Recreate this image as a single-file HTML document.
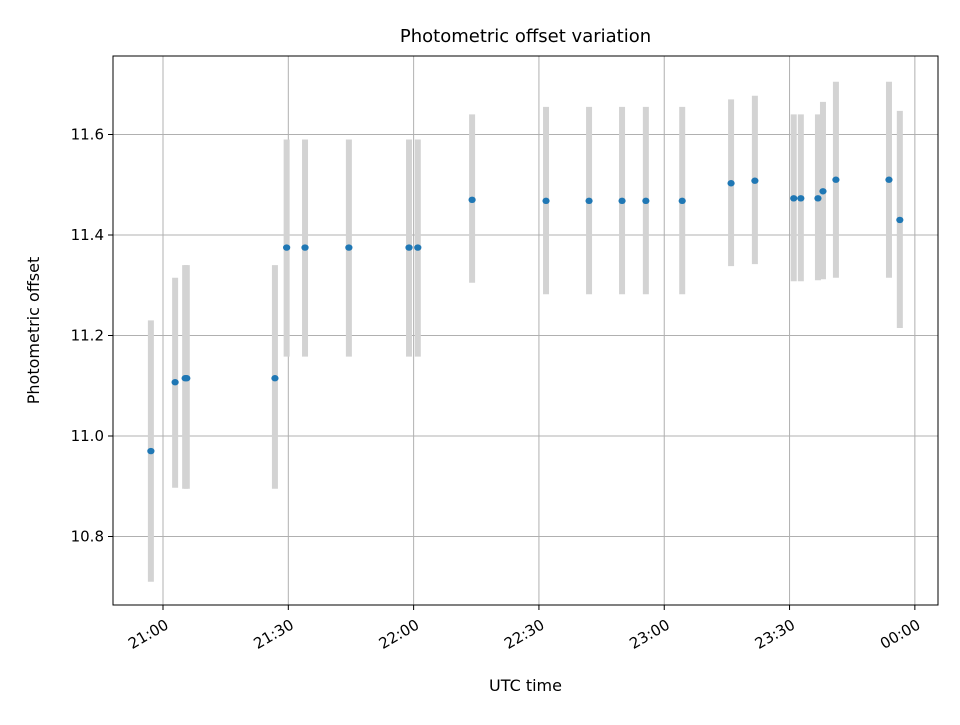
<!DOCTYPE html>
<html><head><meta charset="utf-8"><style>
body{margin:0;background:#fff;font-family:"Liberation Sans","DejaVu Sans",sans-serif}
svg text{font-family:"DejaVu Sans","Liberation Sans",sans-serif;fill:#000}
</style></head><body>
<svg id="chart" width="960" height="720" xmlns="http://www.w3.org/2000/svg">
<rect width="960" height="720" fill="#fff"/>
<g id="grid"></g><g id="bars"></g><g id="pts"></g><g id="axes"></g>
</svg>
<script>
const timesMin=[-2.9,2.9,5.3,5.7,26.8,29.6,34,44.5,58.9,61,74,91.7,102,109.9,115.6,124.3,136,141.7,151,152.7,156.8,158,161.1,173.8,176.4];
const offsets=[10.97,11.107,11.115,11.115,11.115,11.375,11.375,11.375,11.375,11.375,11.47,11.468,11.468,11.468,11.468,11.468,11.503,11.508,11.473,11.473,11.473,11.487,11.51,11.51,11.43];
const lowErr=[10.71,10.897,10.895,10.895,10.895,11.158,11.158,11.158,11.158,11.158,11.305,11.282,11.282,11.282,11.282,11.282,11.338,11.342,11.308,11.308,11.31,11.312,11.315,11.315,11.215];
const highErr=[11.23,11.315,11.34,11.34,11.34,11.59,11.59,11.59,11.59,11.59,11.64,11.655,11.655,11.655,11.655,11.655,11.67,11.677,11.64,11.64,11.64,11.665,11.705,11.705,11.647];
const xTicks=[0,30,60,90,120,150,180];
const xTickLabels=["21:00","21:30","22:00","22:30","23:00","23:30","00:00"];
const yTicks=[10.8,11.0,11.2,11.4,11.6];
const yTickLabels=["10.8","11.0","11.2","11.4","11.6"];
const L=113,R=938,T=56,B=605;
const xs=m=>163+m*4.177;
const ys=v=>436-(v-11.0)*502.5;
const NS="http://www.w3.org/2000/svg";
function mk(p,tag,at){const e=document.createElementNS(NS,tag);for(const k in at)e.setAttribute(k,at[k]);p.appendChild(e);return e;}
const grid=document.getElementById('grid'),bars=document.getElementById('bars'),pts=document.getElementById('pts'),axes=document.getElementById('axes');
xTicks.forEach((t,i)=>{const x=xs(t);
 const g=mk(grid,'line',{x1:x,x2:x,y1:T,y2:B,stroke:'#b0b0b0','stroke-width':1});
 
 mk(axes,'line',{x1:x,x2:x,y1:B,y2:B+5,stroke:'#000'});
 const ax=x+1,ay=B+13;
 const tx=mk(axes,'text',{x:ax,y:ay,'font-size':15,'text-anchor':'end','dominant-baseline':'hanging',transform:`rotate(-30 ${ax} ${ay})`});
 tx.textContent=xTickLabels[i];
 });
yTicks.forEach((t,i)=>{const y=ys(t);
 const g=mk(grid,'line',{x1:L,x2:R,y1:y,y2:y,stroke:'#b0b0b0','stroke-width':1});
 
 mk(axes,'line',{x1:L-5,x2:L,y1:y,y2:y,stroke:'#000'});
 const tx=mk(axes,'text',{x:L-9,y:y+5,'font-size':15,'text-anchor':'end'});
 tx.textContent=yTickLabels[i];
 });
timesMin.forEach((m,i)=>{const x=xs(m);
 const b=mk(bars,'line',{x1:x,x2:x,y1:ys(lowErr[i]),y2:ys(highErr[i]),stroke:'#d3d3d3','stroke-width':6});
 
 const c=mk(pts,'ellipse',{cx:x,cy:ys(offsets[i]),rx:3.6,ry:3.2,fill:'#1f77b4'});
 });
const fr=mk(axes,'rect',{x:L,y:T,width:R-L,height:B-T,fill:'none',stroke:'#000','stroke-width':1});

const ti=mk(axes,'text',{x:(L+R)/2,y:42,'font-size':18,'text-anchor':'middle'});ti.textContent='Photometric offset variation';

const xl=mk(axes,'text',{x:(L+R)/2,y:691,'font-size':16,'text-anchor':'middle'});xl.textContent='UTC time';

const yl=mk(axes,'text',{x:39,y:(T+B)/2,'font-size':16,'text-anchor':'middle',transform:`rotate(-90 39 ${(T+B)/2})`});yl.textContent='Photometric offset';

</script>
</body></html>
